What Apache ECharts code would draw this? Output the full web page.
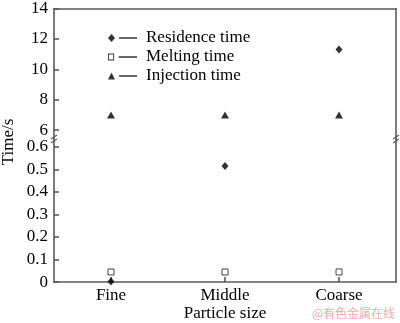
<!DOCTYPE html>
<html><head><meta charset="utf-8">
<script src="https://cdn.jsdelivr.net/npm/echarts@6/dist/echarts.min.js"></script>
<style>html,body{margin:0;padding:0;background:#fff}#c{width:400px;height:323px}</style>
</head><body><div id="c"></div>
<script>
const categories = ['Fine', 'Middle', 'Coarse'];
const residenceTime = [0.003, 0.515, 11.3];
const meltingTime = [0.045, 0.045, 0.045];
const injectionTime = [7, 7, 7];
const upperTicks = [6, 8, 10, 12, 14];
const lowerTicks = [0, 0.1, 0.2, 0.3, 0.4, 0.5, 0.6];
const seriesNames = ['Residence time', 'Melting time', 'Injection time'];
const xName = 'Particle size';
const yName = 'Time/s';
const watermark = '@有色金属在线';
const breakValue = 1;

const FONT = 'Liberation Serif';
const AX = '#5a5a5a';

function upper(vals) { return categories.map((c, i) => [c, vals[i]]).filter(d => d[1] >= breakValue); }
function lower(vals) { return categories.map((c, i) => [c, vals[i]]).filter(d => d[1] < breakValue); }

const lineStyle = { color: AX, width: 1.6 };
const icons = {
  diamond: 'path://M0 4L3.5 0L7 4L3.5 8ZM11 3.2L29 3.2L29 4.8L11 4.8Z',
  square: 'path://M0.5 0.5L6.5 0.5L6.5 7.5L0.5 7.5ZM1.4 1.5L1.4 6.5L5.6 6.5L5.6 1.5ZM11 3.2L29 3.2L29 4.8L11 4.8Z',
  triangle: 'path://M0 7.5L3.5 0.5L7 7.5ZM11 3.2L29 3.2L29 4.8L11 4.8Z'
};

const chart = echarts.init(document.getElementById('c'), null, { renderer: 'canvas' });
chart.setOption({
  animation: false,
  textStyle: { fontFamily: FONT },
  grid: [
    { left: 54, right: 4, top: 6, height: 133 },
    { left: 54, right: 4, top: 139, height: 145 }
  ],
  xAxis: [
    { type: 'category', data: categories, gridIndex: 0, position: 'top',
      axisLine: { show: true, lineStyle }, axisTick: { show: false }, axisLabel: { show: false }, splitLine: { show: false } },
    { type: 'category', data: categories, gridIndex: 1, position: 'bottom',
      axisLine: { show: true, lineStyle },
      axisTick: { show: true, inside: true, alignWithLabel: true, length: 5, lineStyle },
      axisLabel: { fontFamily: FONT, fontSize: 17, color: '#000', margin: 5 },
      splitLine: { show: false },
      name: xName, nameLocation: 'middle', nameGap: 22,
      nameTextStyle: { fontFamily: FONT, fontSize: 17, color: '#000' } }
  ],
  yAxis: [
    { type: 'value', gridIndex: 0, min: 5.42, max: 14, position: 'left',
      axisLine: { show: true, lineStyle },
      axisTick: { show: true, inside: true, length: 5, lineStyle, customValues: upperTicks },
      axisLabel: { fontFamily: FONT, fontSize: 17, color: '#000', margin: 6, customValues: upperTicks },
      splitLine: { show: false } },
    { type: 'value', gridIndex: 1, min: 0, max: 0.635, position: 'left',
      axisLine: { show: true, lineStyle },
      axisTick: { show: true, inside: true, length: 5, lineStyle, customValues: lowerTicks },
      axisLabel: { fontFamily: FONT, fontSize: 17, color: '#000', margin: 6, customValues: lowerTicks },
      splitLine: { show: false } },
    { type: 'value', gridIndex: 0, min: 5.42, max: 14, position: 'right',
      axisLine: { show: true, lineStyle }, axisTick: { show: false }, axisLabel: { show: false }, splitLine: { show: false } },
    { type: 'value', gridIndex: 1, min: 0, max: 0.635, position: 'right',
      axisLine: { show: true, lineStyle }, axisTick: { show: false }, axisLabel: { show: false }, splitLine: { show: false } }
  ],
  legend: {
    orient: 'vertical', left: 103, top: 24, itemWidth: 29, itemHeight: 8, itemGap: 1,
    itemStyle: { borderWidth: 0, color: '#000' },
    textStyle: { fontFamily: FONT, fontSize: 17, color: '#000', lineHeight: 18, padding: [0, 0, 0, 4] },
    data: [
      { name: seriesNames[0], icon: icons.diamond },
      { name: seriesNames[1], icon: icons.square },
      { name: seriesNames[2], icon: icons.triangle }
    ]
  },
  series: [
    { name: seriesNames[0], type: 'scatter', xAxisIndex: 0, yAxisIndex: 0, data: upper(residenceTime),
      symbol: 'diamond', symbolSize: [7, 8], itemStyle: { color: '#000' } },
    { name: seriesNames[0], type: 'scatter', xAxisIndex: 1, yAxisIndex: 1, data: lower(residenceTime),
      symbol: 'diamond', symbolSize: [7, 8], itemStyle: { color: '#000' }, clip: false },
    { name: seriesNames[1], type: 'scatter', xAxisIndex: 1, yAxisIndex: 1, data: lower(meltingTime),
      symbol: 'rect', symbolSize: 6, itemStyle: { color: '#fff', borderColor: '#000', borderWidth: 0.9 } },
    { name: seriesNames[1], type: 'scatter', xAxisIndex: 0, yAxisIndex: 0, data: upper(meltingTime),
      symbol: 'rect', symbolSize: 6, itemStyle: { color: '#fff', borderColor: '#000', borderWidth: 0.9 } },
    { name: seriesNames[2], type: 'scatter', xAxisIndex: 0, yAxisIndex: 0, data: upper(injectionTime),
      symbol: 'triangle', symbolSize: [8, 7], itemStyle: { color: '#000' } },
    { name: seriesNames[2], type: 'scatter', xAxisIndex: 1, yAxisIndex: 1, data: lower(injectionTime),
      symbol: 'triangle', symbolSize: [8, 7], itemStyle: { color: '#000' } }
  ],
  graphic: [
    { type: 'text', x: 9, y: 142, rotation: Math.PI / 2, style: { text: yName, font: '17px "Liberation Serif"', fill: '#000', align: 'center', verticalAlign: 'middle' } },
    { type: 'group', x: 54, y: 139, children: [
      { type: 'rect', shape: { x: -3, y: -2.5, width: 6, height: 5 }, style: { fill: '#fff' } },
      { type: 'line', shape: { x1: -3, y1: 0, x2: 3, y2: -4 }, style: { stroke: AX, lineWidth: 1.2 } },
      { type: 'line', shape: { x1: -3, y1: 4, x2: 3, y2: 0 }, style: { stroke: AX, lineWidth: 1.2 } }
    ] },
    { type: 'group', x: 396, y: 139, children: [
      { type: 'rect', shape: { x: -3, y: -2.5, width: 6, height: 5 }, style: { fill: '#fff' } },
      { type: 'line', shape: { x1: -3, y1: 0, x2: 3, y2: -4 }, style: { stroke: AX, lineWidth: 1.2 } },
      { type: 'line', shape: { x1: -3, y1: 4, x2: 3, y2: 0 }, style: { stroke: AX, lineWidth: 1.2 } }
    ] },
    { type: 'text', right: 5, bottom: 4, style: { text: watermark, font: '12px "Noto Sans CJK SC"', fill: '#f0a8a8' } }
  ]
});
</script></body></html>
